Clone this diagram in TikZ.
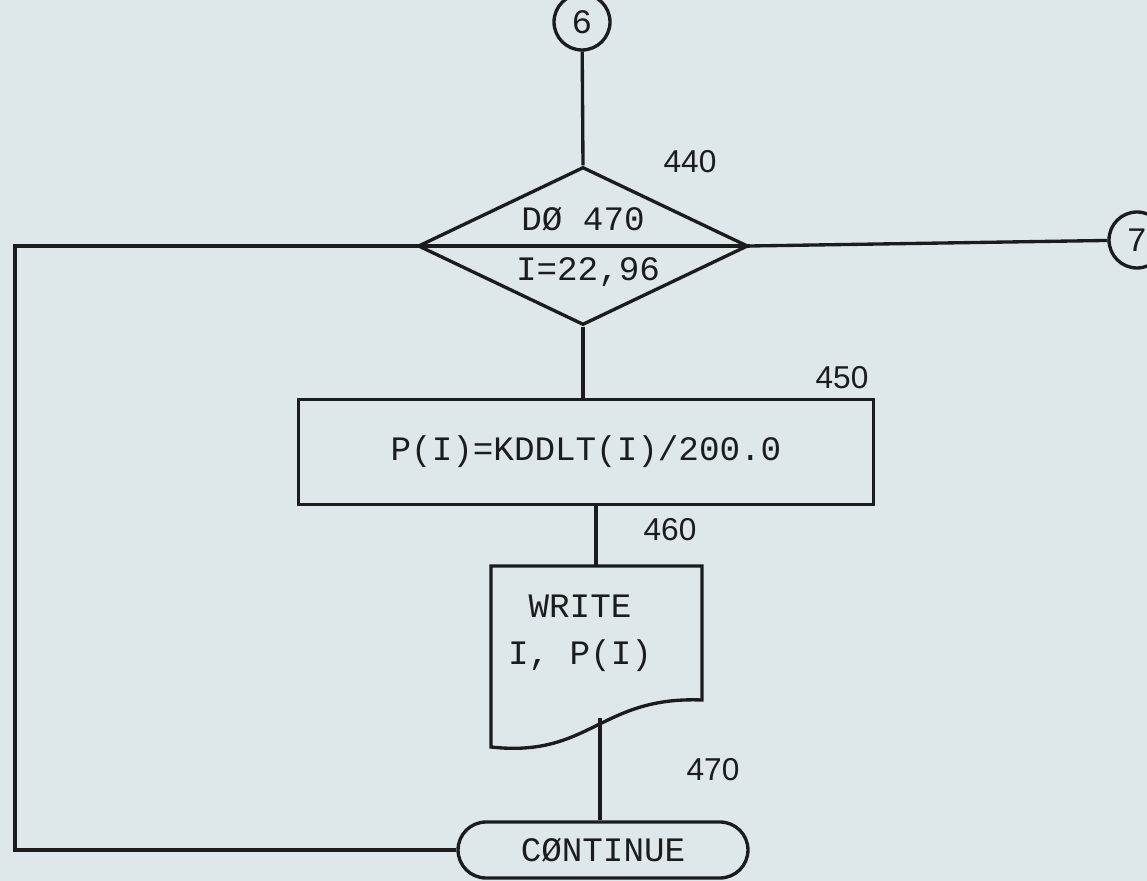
\documentclass[tikz,border=0pt]{standalone}
\usepackage{fontspec}
\setmonofont{Liberation Mono}
\setsansfont{Liberation Sans}
\usepackage{tikz}
\usetikzlibrary{shapes.geometric}
\definecolor{paper}{HTML}{DEE8EA}
\definecolor{ink}{HTML}{1C1C1C}
\tikzset{
  flow/.style={draw=ink, line width=1.9pt},
  stmt/.style={font=\ttfamily\fontsize{19.5}{23}\selectfont, text=ink},
  stepno/.style={font=\sffamily\fontsize{18}{22}\selectfont, text=ink},
  conn/.style={flow, circle, minimum size=1.12cm, inner sep=0pt, stmt}
}

\begin{document}
\begin{tikzpicture}[x=0.02cm, y=-0.02cm]
  \fill[paper] (0,0) rectangle (1147,881);
  \useasboundingbox (0,0) rectangle (1147,881);

  \node[conn] (c6) at (582,22) {6};
  \node[conn] (c7) at (1137,240) {7};

  \node[flow, diamond, minimum width=6.6cm, minimum height=3.16cm, inner sep=0pt] (do) at (583,246) {};
  \draw[flow] (do.west) -- (do.east);
  \node[stmt] (dotop) at (583,219) {DØ 470};
  \node[stmt] (dobot) at (588,272) {I=22,96};

  \node[flow, rectangle, minimum width=11.5cm, minimum height=2.1cm, stmt] (calc) at (586,452) {P(I)=KDDLT(I)/200.0};

  % write document
  \coordinate (doctop) at (596,566);
  \coordinate (docbot) at (600,718);
  \draw[flow] (491,566) -- (702,566) -- (702,700)
    .. controls (600,696) and (590,758) .. (491,747) -- cycle;
  \node[stmt] (wr1) at (580,606) {WRITE};
  \node[stmt] (wr2) at (580,656) {I, P(I)};

  \node[flow, rectangle, rounded corners=0.56cm, minimum width=5.8cm, minimum height=1.12cm, stmt] (cont) at (603,850) {CØNTINUE};

  \node[stepno] (n440) at (690,162) {440};
  \node[stepno] (n450) at (842,378) {450};
  \node[stepno] (n460) at (670,530) {460};
  \node[stepno] (n470) at (713,770) {470};

  \coordinate (lt) at (15,246);
  \coordinate (lb) at (15,850);

  \draw[flow] (c6) -- (do.north);
  \draw[flow] (do.east) -- (c7);
  \draw[flow] (do.south) -- (do.south |- calc.north);
  \draw[flow] (calc.south -| doctop) -- (doctop);
  \draw[flow] (docbot) -- (docbot |- cont.north);
  \draw[flow] (do.west) -- (lt) -- (lb) -- (cont.west);
\end{tikzpicture}
\end{document}
